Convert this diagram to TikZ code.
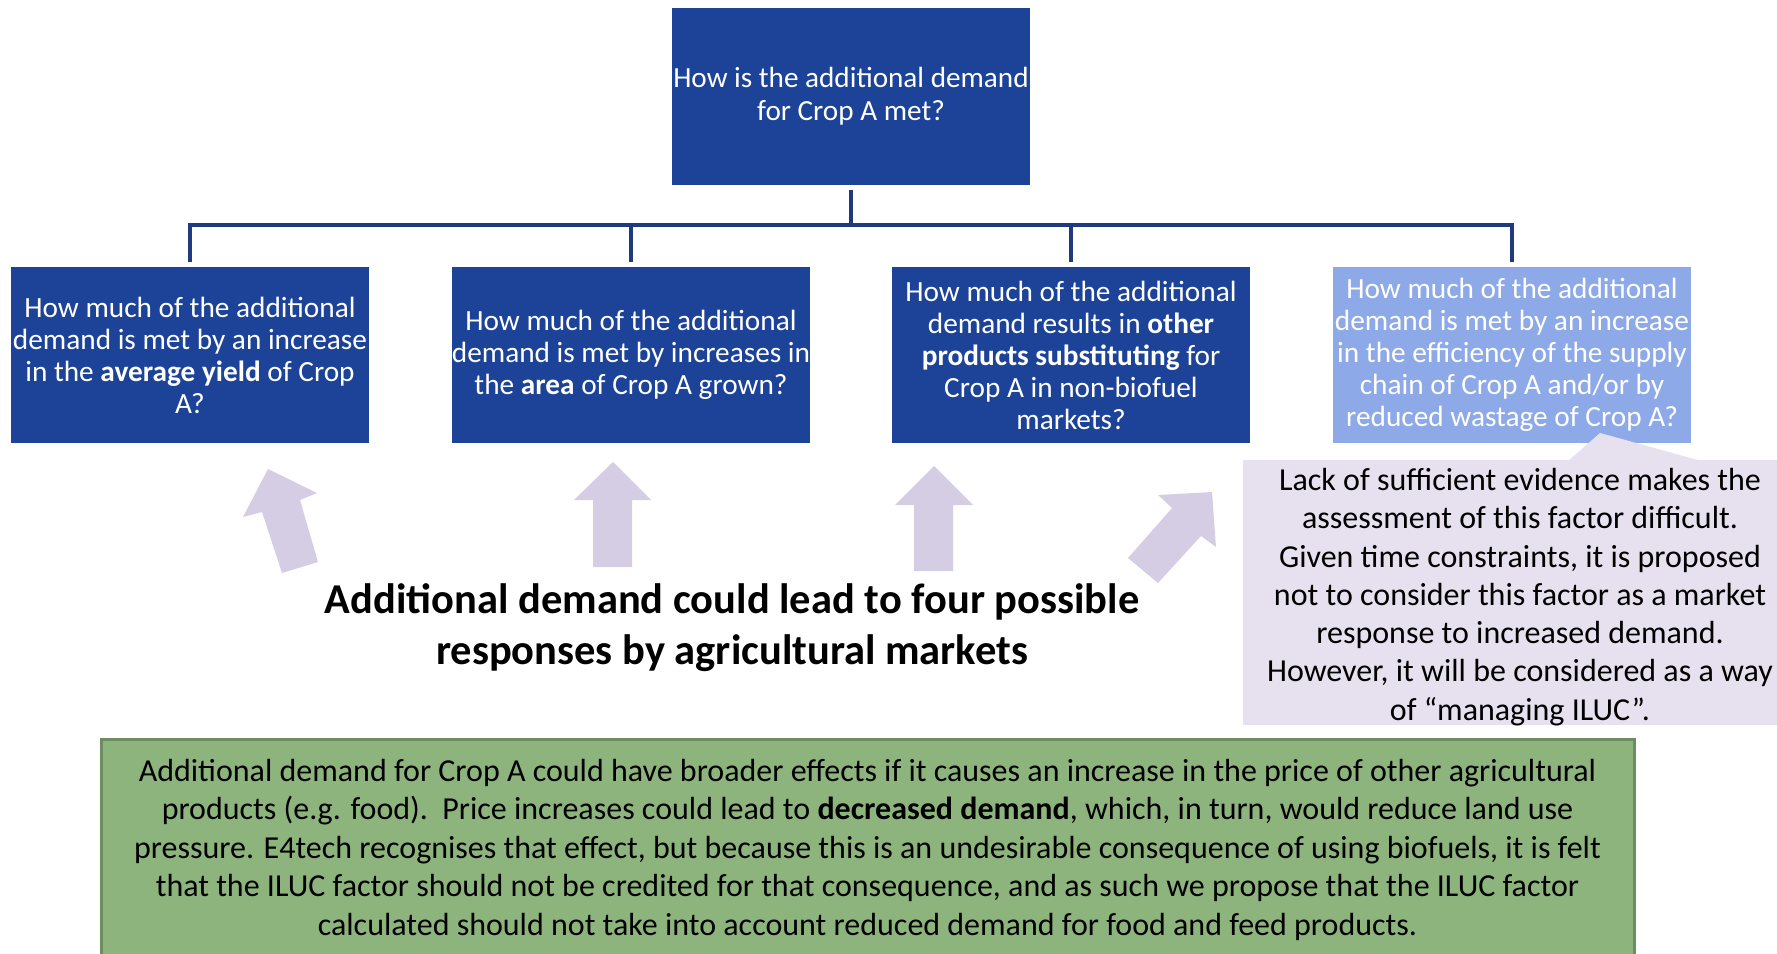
\documentclass[tikz,border=0pt]{standalone}
\usepackage{fontspec}
\setmainfont{Carlito}
\definecolor{navy}{HTML}{1C4398}
\definecolor{linec}{HTML}{1F3B7D}
\definecolor{lightb}{HTML}{8EA9E8}
\definecolor{lav}{HTML}{E7E1EF}
\definecolor{arrowc}{HTML}{D5CDE3}
\definecolor{greenf}{HTML}{8DB47C}
\definecolor{greend}{HTML}{6E8C5F}
\tikzset{
  qbox/.style={fill=navy, draw=none, minimum width=358pt, minimum height=176pt,
    align=center, inner sep=0pt, text=white,
    font=\fontsize{29.3}{32}\selectfont},
  conn/.style={draw=linec, line width=4.5pt},
  blockarrow/.style={fill=arrowc, draw=none},
}
\begin{document}
\begin{tikzpicture}[x=1pt,y=-1pt]
\useasboundingbox (0,0) rectangle (1777,953);
% top box
\node[qbox, minimum height=177pt, font=\fontsize{29.2}{33}\selectfont] (top) at (851,96.5)
  {How is the additional demand\\for Crop A met?};
% second-level boxes
\node[qbox] (b1) at (190,355)
  {How much of the additional\\demand is met by an increase\\in the \textbf{average yield} of Crop\\A?};
\node[qbox] (b2) at (631,355)
  {How much of the additional\\demand is met by increases in\\the \textbf{area} of Crop A grown?};
\node[qbox] (b3) at (1071,355)
  {How much of the additional\\demand results in \textbf{other}\\\textbf{products substituting} for\\Crop A in non-biofuel\\markets?};
\node[qbox, fill=lightb] (b4) at (1512,355)
  {How much of the additional\\demand is met by an increase\\in the efficiency of the supply\\chain of Crop A and/or by\\reduced wastage of Crop A?};
% connectors
\coordinate (bus) at (851,225);
\draw[conn, shorten <=5pt] (top.south) -- (bus);
\draw[conn, shorten >=5pt] (bus) -| (b1.north);
\draw[conn, shorten >=5pt] (bus) -| (b2.north);
\draw[conn, shorten >=5pt] (bus) -| (b3.north);
\draw[conn, shorten >=5pt] (bus) -| (b4.north);
% callout
\node[fill=lav, draw=none, minimum width=534pt, minimum height=265pt, inner sep=0pt] (callout) at (1510,592.5) {};
\fill[lav] (1567,462) -- (1600,433) -- (1705,462) -- cycle;
\node[align=center, inner sep=0pt, font=\fontsize{32}{38.3}\selectfont] (callouttext) at (1520,597)
  {Lack of sufficient evidence makes the\\assessment of this factor difficult.\\Given time constraints, it is proposed\\not to consider this factor as a market\\response to increased demand.\\However, it will be considered as a way\\of “managing ILUC”.};
% block arrows
\fill[blockarrow] (282,573) -- (262,512) -- (243,517) -- (268,469) -- (317,493) -- (300,500) -- (318,562) -- cycle;
\fill[blockarrow] (593,567) -- (593,500) -- (574,500) -- (613,462) -- (651,500) -- (632,500) -- (632,567) -- cycle;
\fill[blockarrow] (914,571) -- (914,505) -- (895,505) -- (934,466) -- (973,505) -- (953,505) -- (953,571) -- cycle;
\fill[blockarrow] (1128,558) -- (1172,508) -- (1158,495) -- (1212,492) -- (1216,547) -- (1201,536) -- (1158,583) -- cycle;
% title
\node[align=center, inner sep=0pt, font=\fontsize{42.5}{51}\selectfont\bfseries] (title) at (732,628)
  {Additional demand could lead to four possible\\responses by agricultural markets};
% green box
\node[fill=greenf, draw=greend, line width=3pt, minimum width=1533pt, minimum height=220pt, inner sep=0pt,
  align=center, font=\fontsize{32}{38.5}\selectfont] (green) at (867.5,849.5)
  {Additional demand for Crop A could have broader effects if it causes an increase in the price of other agricultural\\
   products (e.g. food).\ \ Price increases could lead to \textbf{decreased demand}, which, in turn, would reduce land use\\
   pressure. E4tech recognises that effect, but because this is an undesirable consequence of using biofuels, it is felt\\
   that the ILUC factor should not be credited for that consequence, and as such we propose that the ILUC factor\\
   calculated should not take into account reduced demand for food and feed products.};
\end{tikzpicture}
\end{document}
